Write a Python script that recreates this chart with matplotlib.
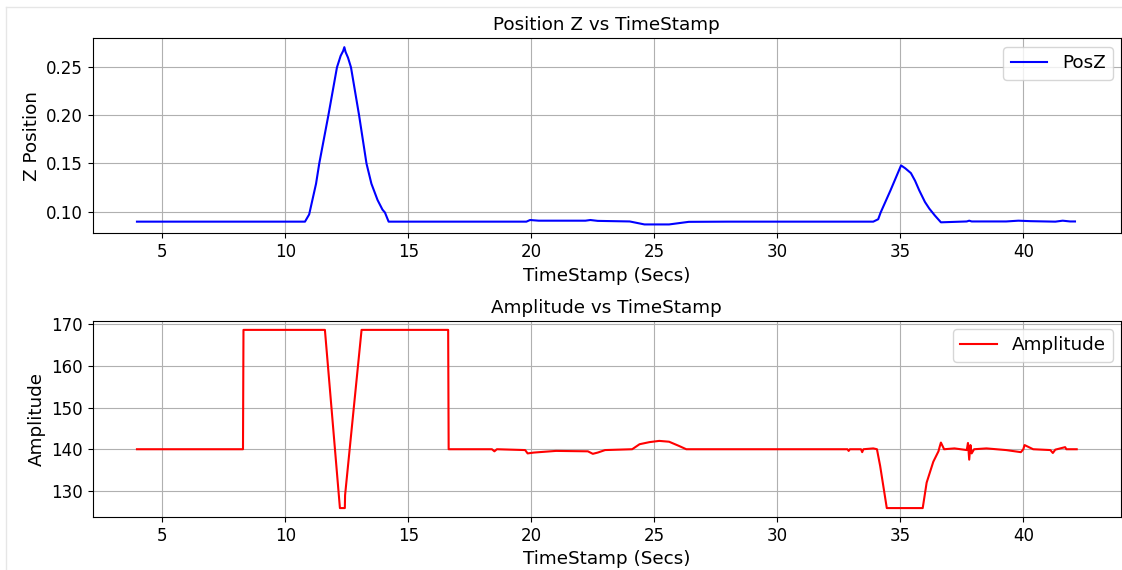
import matplotlib
matplotlib.use("Agg")
import matplotlib.pyplot as plt
import numpy as np
from matplotlib.lines import Line2D

# --- data (key points of each trace) ---
pos_t = [3.97, 10.8, 10.97, 11.25, 11.38, 11.75, 12.1, 12.25, 12.35, 12.4, 12.45, 12.55,
         12.67, 13.0, 13.3, 13.5, 13.75, 13.95, 14.05, 14.2, 19.8, 19.95, 20.3, 22.2,
         22.4, 22.7, 24.0, 24.6, 25.6, 26.4, 28.0, 33.9, 34.1, 34.2, 34.6, 35.03,
         35.2, 35.43, 35.6, 35.77, 36.0, 36.18, 36.4, 36.65, 37.7, 37.8, 37.9, 39.3,
         39.8, 40.3, 41.3, 41.6, 41.9, 42.1]
pos_z = [0.0895, 0.0895, 0.097, 0.129, 0.150, 0.200, 0.250, 0.262, 0.267, 0.271, 0.266, 0.260,
         0.250, 0.200, 0.150, 0.129, 0.112, 0.102, 0.099, 0.0895, 0.0895, 0.0912, 0.0905, 0.0905,
         0.0912, 0.0903, 0.0897, 0.0866, 0.0866, 0.0893, 0.0895, 0.0895, 0.092, 0.099, 0.122, 0.148,
         0.145, 0.140, 0.132, 0.122, 0.110, 0.103, 0.096, 0.0888, 0.0897, 0.0905, 0.0897, 0.0897,
         0.0905, 0.0900, 0.0895, 0.0905, 0.0897, 0.0897]

amp_t = [3.97, 8.28, 8.30, 11.61, 12.22, 12.42, 12.43, 13.10, 16.62, 16.64, 18.4, 18.5,
         18.6, 19.75, 19.85, 20.1, 21.0, 22.3, 22.5, 22.7, 23.0, 24.1, 24.4, 24.8,
         25.2, 25.6, 26.0, 26.3, 27.0, 32.85, 32.9, 32.95, 33.4, 33.45, 33.5, 33.9,
         34.05, 34.18, 34.45, 35.91, 36.07, 36.34, 36.55, 36.6, 36.65, 36.78, 37.2, 37.7,
         37.75, 37.8, 37.85, 37.9, 38.0, 38.5, 39.3, 39.9, 40.0, 40.05, 40.4, 41.1,
         41.2, 41.3, 41.7, 41.75, 42.17]
amp_v = [140.0, 140.0, 168.6, 168.6, 125.9, 125.9, 129.0, 168.6, 168.6, 140.0, 140.0, 139.5,
         140.0, 139.8, 139.0, 139.2, 139.6, 139.5, 138.9, 139.2, 139.8, 140.0, 141.2, 141.7,
         142.0, 141.8, 140.8, 140.0, 140.0, 140.0, 139.6, 140.0, 140.0, 139.3, 140.0, 140.2,
         140.0, 136.0, 125.9, 125.9, 132.0, 137.0, 139.5, 140.6, 141.6, 140.0, 140.2, 139.8,
         141.5, 137.5, 141.0, 139.0, 140.0, 140.2, 139.8, 139.3, 140.0, 141.0, 140.0, 139.8,
         139.1, 139.9, 140.5, 140.0, 140.0]

# --- plotting ---
fig = plt.figure(figsize=(11.22, 5.70), dpi=100)
ax1 = fig.add_axes([0.0826, 0.5907, 0.9165, 0.3421])
ax2 = fig.add_axes([0.0826, 0.0930, 0.9165, 0.3439])

ax1.plot(pos_t, pos_z, color="blue", linewidth=1.5, label="PosZ")
ax1.set_title("Position Z vs TimeStamp", fontsize=13.2)
ax1.set_xlabel("TimeStamp (Secs)", fontsize=13.2)
ax1.set_ylabel("Z Position", fontsize=13.2)

ax2.plot(amp_t, amp_v, color="red", linewidth=1.5, label="Amplitude")
ax2.set_title("Amplitude vs TimeStamp", fontsize=13.2)
ax2.set_xlabel("TimeStamp (Secs)", fontsize=13.2)
ax2.set_ylabel("Amplitude", fontsize=13.2)

for ax in (ax1, ax2):
    ax.set_xlim(2.17, 43.97)
    ax.set_xticks([5, 10, 15, 20, 25, 30, 35, 40])
    ax.tick_params(labelsize=12)
    ax.grid(True)

ax1.set_yticks([0.10, 0.15, 0.20, 0.25])
ax2.set_yticks([130, 140, 150, 160, 170])

# legends anchored so they sit just inside the visible right edge
ax1.legend(loc="upper right", bbox_to_anchor=(1113 / 1122, 1 - 47 / 570),
           bbox_transform=fig.transFigure, fontsize=13.2, borderaxespad=0)
ax2.legend(loc="upper right", bbox_to_anchor=(1113 / 1122, 1 - 329 / 570),
           bbox_transform=fig.transFigure, fontsize=13.2, borderaxespad=0)

# faint screenshot border
fig.add_artist(Line2D([5.5 / 1122, 5.5 / 1122], [0, 1 - 7 / 570],
                      transform=fig.transFigure, color="#e6e6e6", linewidth=1))
fig.add_artist(Line2D([5.5 / 1122, 1], [1 - 7 / 570, 1 - 7 / 570],
                      transform=fig.transFigure, color="#e6e6e6", linewidth=1))

fig.savefig("out.png", dpi=100)
